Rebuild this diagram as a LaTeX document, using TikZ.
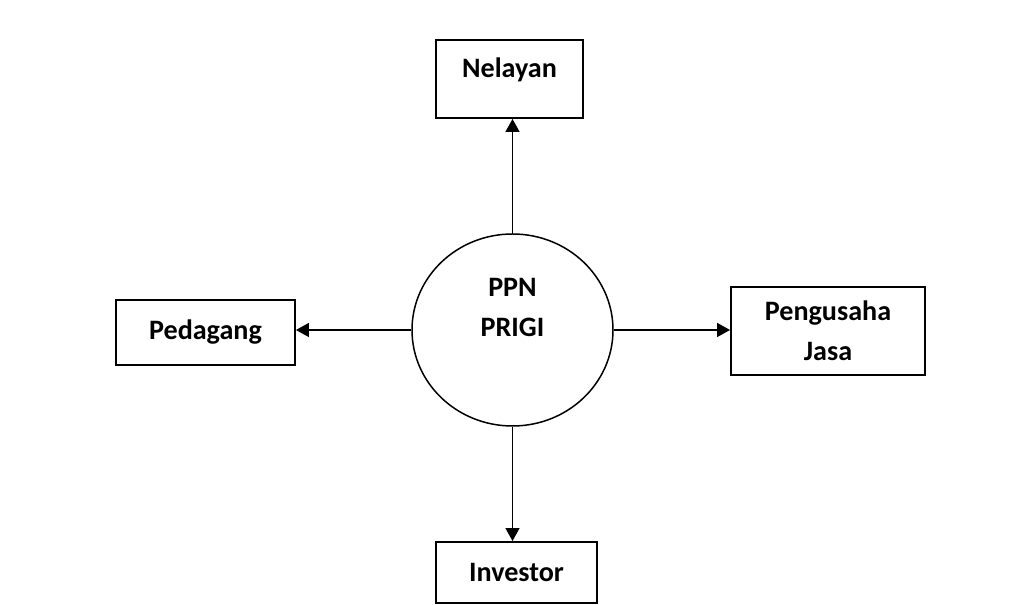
\documentclass[tikz,border=0pt]{standalone}
\usepackage{fontspec}
\setmainfont{Carlito}
\usetikzlibrary{positioning, arrows.meta, shapes.geometric}

\begin{document}
\begin{tikzpicture}[
        font=\fontsize{16}{22.5}\selectfont\bfseries,
        % Gaya kotak dan lingkaran
        entity/.style={
            rectangle,
            draw=black,
            fill=white,
            align=center,
            line width=1.1pt
        },
        hub/.style={
            ellipse,
            draw=black,
            minimum width=4.02cm,
            minimum height=3.84cm,
            line width=0.85pt
        },
        % Gaya panah
        arrow/.style={-{Triangle[length=2.6mm, width=2.8mm]}, line width=0.85pt}
    ]
    \useasboundingbox (0,0) rectangle (20.4,12.1);

    % -- Pusat --
    \node[hub, label={[yshift=0.45cm, align=center]center:PPN\\PRIGI}] (ppn) at (10.25,5.5) {};

    % -- Kotak sekeliling --
    \node[entity, minimum width=2.94cm, minimum height=1.56cm, label={[yshift=0.18cm]center:Nelayan}] (nelayan) at (10.19,10.52) {};

    \node[entity, minimum width=3.58cm, minimum height=1.3cm] (pedagang) at (4.11,5.45) {Pedagang};

    \node[entity, minimum width=3.88cm, minimum height=1.76cm] (pengusaha) at (16.56,5.48) {Pengusaha\\Jasa};

    \node[entity, minimum width=3.22cm, minimum height=1.22cm] (investor) at (10.33,0.65) {Investor};

    % -- Panah keluar dari PPN --
    \draw[arrow] (ppn.north) -- (ppn.north |- nelayan.south);
    \draw[arrow] (ppn.south) -- (ppn.south |- investor.north);
    \draw[arrow] (ppn.west) -- (ppn.west -| pedagang.east);
    \draw[arrow] (ppn.east) -- (ppn.east -| pengusaha.west);

\end{tikzpicture}
\end{document}
